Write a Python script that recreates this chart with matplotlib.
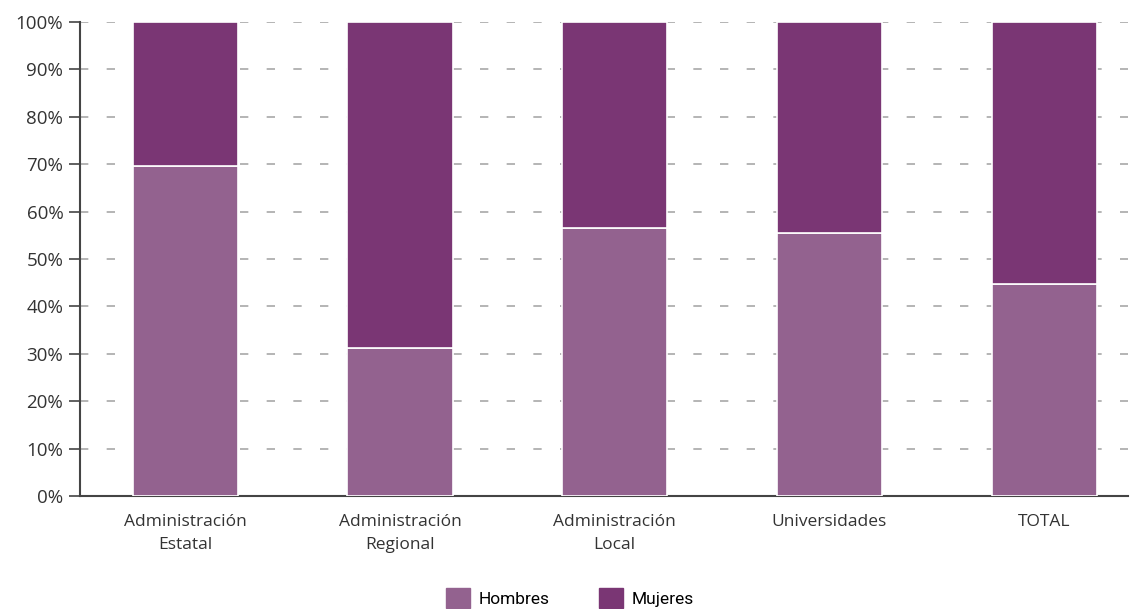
import matplotlib
matplotlib.use("Agg")
import matplotlib.pyplot as plt
from matplotlib.ticker import PercentFormatter
from matplotlib.patches import Patch

categories = ["Administración\nEstatal", "Administración\nRegional", "Administración\nLocal", "Universidades", "TOTAL"]
hombres = [69.6, 31.2, 56.6, 55.5, 44.7]
mujeres = [100 - h for h in hombres]
yticks = list(range(0, 101, 10))

c_h = "#93628f"
c_m = "#7a3674"

plt.rcParams['font.family'] = ['Open Sans', 'DejaVu Sans']

fig = plt.figure(figsize=(11.31, 6.09), dpi=100)
ax = fig.add_axes([80/1131, 1 - 496/609, 1048/1131, 474/609])

x = list(range(len(categories)))
ax.bar(x, hombres, width=0.49, color=c_h, edgecolor="white", linewidth=1.2, zorder=3)
ax.bar(x, mujeres, width=0.49, bottom=hombres, color=c_m, edgecolor="white", linewidth=1.2, zorder=3)

ax.set_xlim(-0.49, 4.39)
ax.set_ylim(0, 100)
ax.set_yticks(yticks)
ax.yaxis.set_major_formatter(PercentFormatter(decimals=0))
ax.set_xticks(x)
ax.set_xticklabels(categories, linespacing=1.55)
ax.tick_params(axis='x', length=0, pad=13, labelsize=12.5, labelcolor="#333333")
ax.tick_params(axis='y', length=8, width=1.2, color="#444444", labelsize=13.5, labelcolor="#333333", pad=4)
ax.grid(axis='y', linestyle=(0, (5, 11)), color="#a8a8a8", linewidth=1.2, zorder=0)
for s in ["top", "right"]:
    ax.spines[s].set_visible(False)
for s in ["left", "bottom"]:
    ax.spines[s].set_color("#444444")
    ax.spines[s].set_linewidth(1.5)

handles = [Patch(color=c_h, label="Hombres"), Patch(color=c_m, label="Mujeres")]
fig.legend(handles=handles, loc="center", bbox_to_anchor=(570/1131, 1 - 598/609), ncol=2,
           frameon=False, prop={'family': ['Roboto', 'DejaVu Sans'], 'size': 12.5},
           handlelength=1.4, handleheight=1.4, handletextpad=0.5, columnspacing=2.8)

fig.savefig("out.png", dpi=100)
